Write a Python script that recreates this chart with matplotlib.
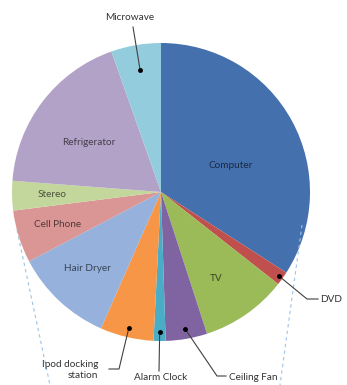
import numpy as np
import matplotlib.pyplot as plt
from matplotlib.colors import to_rgb

# share of household energy use per appliance (percent)
appliances = ["Computer", "DVD", "TV", "Ceiling Fan", "Alarm Clock",
              "Ipod docking\nstation", "Hair Dryer", "Cell Phone", "Stereo",
              "Refrigerator", "Microwave"]
shares = [34.1, 1.5, 9.4, 4.5, 1.3, 5.8, 10.7, 5.7, 3.2, 18.4, 5.4]
colors = ["#4470AE", "#C0504D", "#9BBB59", "#8064A2", "#4BACC6", "#F79646",
          "#95B1DC", "#D99694", "#C3D69B", "#B3A2C7", "#93CDDD"]

# labels drawn inside the slice: (radius fraction, angle nudge in degrees)
inside = {"Computer": (0.5, -7.6), "TV": (0.69, -2.5), "Hair Dryer": (0.71, -0.8),
          "Cell Phone": (0.73, 0), "Stereo": (0.73, 0), "Refrigerator": (0.59, 3.2)}

plt.rcParams['font.family'] = ['Lato', 'DejaVu Sans']

fig = plt.figure(figsize=(3.47, 3.85), dpi=100)
ax = fig.add_axes([0, 0, 1, 1])
px = 149.0  # pixels per unit radius


def to_data(x, y):
    return (x - 161) / px, (192 - y) / px


wedges, _ = ax.pie(shares, colors=colors, startangle=90, counterclock=False,
                   radius=1, wedgeprops=dict(linewidth=0))

# faint dashed connector lines running off the bottom
for p0, p1 in [((17, 230), (50, 385)), ((302, 225), (280, 385))]:
    a, b = to_data(*p0), to_data(*p1)
    ax.plot([a[0], b[0]], [a[1], b[1]], ls=(0, (3, 3)), lw=0.8,
            color="#9DC3E6")


def mid_angle(w, nudge=0.0):
    return np.deg2rad((w.theta1 + w.theta2) / 2 + nudge)


for w, name, c in zip(wedges, appliances, colors):
    if name in inside:
        r, nudge = inside[name]
        t = mid_angle(w, nudge)
        tc = tuple(0.38 * np.array(to_rgb(c)))
        ax.text(r * np.cos(t), r * np.sin(t), name, ha="center", va="center",
                fontsize=7.2, color=tc)

# leader-line labels: (elbow points in pixels, text anchor, alignment)
leaders = {
    "Microwave": ([(133, 27)], (130, 17), "center"),
    "DVD": ([(307, 299), (318, 299)], (320, 300), "left"),
    "Ceiling Fan": ([(217, 376), (226, 376)], (229, 378), "left"),
    "Alarm Clock": ([(159, 371)], (161, 378), "center"),
    "Ipod docking\nstation": ([(119, 369), (109, 369)], (98, 370), "right"),
}
dot_r = {"Microwave": 0.83, "DVD": 0.97, "Ceiling Fan": 0.93,
         "Alarm Clock": 0.94, "Ipod docking\nstation": 0.94}

for w, name in zip(wedges, appliances):
    if name not in leaders:
        continue
    pts, anchor, ha = leaders[name]
    t = mid_angle(w)
    r = dot_r[name]
    xs = [r * np.cos(t)] + [to_data(*p)[0] for p in pts]
    ys = [r * np.sin(t)] + [to_data(*p)[1] for p in pts]
    ax.plot(xs, ys, color="#404040", lw=0.8)
    ax.plot(xs[0], ys[0], "o", ms=2.5, color="black")
    tx, ty = to_data(*anchor)
    ax.text(tx, ty, name, ha=ha, va="center", fontsize=7.2, color="#333333",
            multialignment=ha, linespacing=1.3)

ax.set_xlim(-161 / px, (347 - 161) / px)
ax.set_ylim((192 - 385) / px, 192 / px)
ax.set_aspect("auto")
ax.axis("off")

fig.savefig("out.png", dpi=100)
